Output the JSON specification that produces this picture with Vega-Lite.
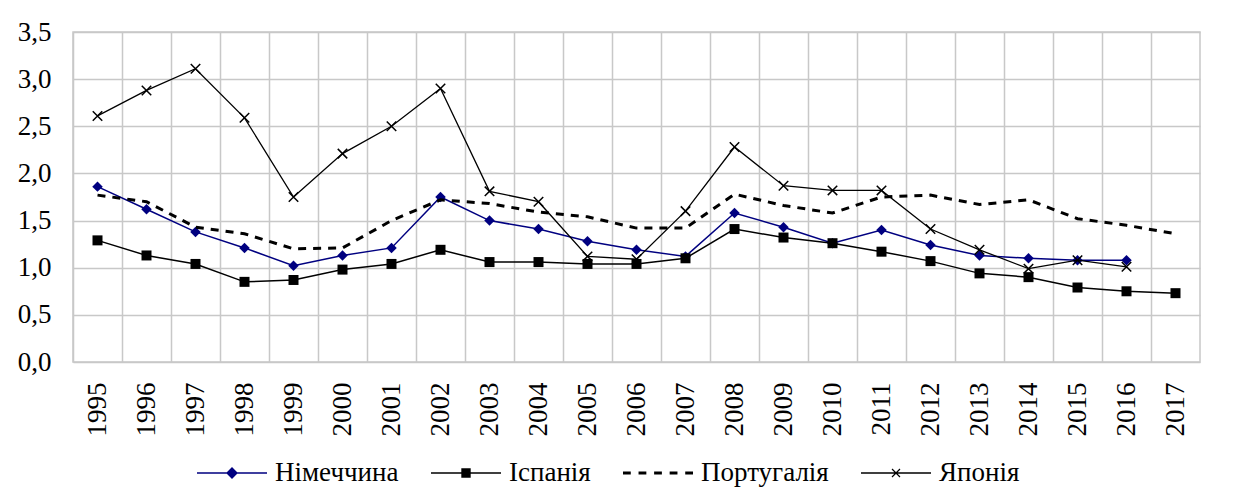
{
  "$schema": "https://vega.github.io/schema/vega-lite/v6.json",
  "width": 1127,
  "height": 330,
  "autosize": "none",
  "padding": {"left": 73, "top": 32, "right": 35, "bottom": 138},
  "background": "white",
  "config": {
    "view": {"stroke": "#c8c8c8", "strokeWidth": 1.5},
    "font": "Liberation Serif"
  },
  "resolve": {"axis": {"x": "independent"}},
  "data": {
    "values": [
      {"year": 1995, "series": "Німеччина", "value": 1.86},
      {"year": 1996, "series": "Німеччина", "value": 1.62},
      {"year": 1997, "series": "Німеччина", "value": 1.38},
      {"year": 1998, "series": "Німеччина", "value": 1.21},
      {"year": 1999, "series": "Німеччина", "value": 1.02},
      {"year": 2000, "series": "Німеччина", "value": 1.13},
      {"year": 2001, "series": "Німеччина", "value": 1.21},
      {"year": 2002, "series": "Німеччина", "value": 1.75},
      {"year": 2003, "series": "Німеччина", "value": 1.50},
      {"year": 2004, "series": "Німеччина", "value": 1.41},
      {"year": 2005, "series": "Німеччина", "value": 1.28},
      {"year": 2006, "series": "Німеччина", "value": 1.19},
      {"year": 2007, "series": "Німеччина", "value": 1.12},
      {"year": 2008, "series": "Німеччина", "value": 1.58},
      {"year": 2009, "series": "Німеччина", "value": 1.43},
      {"year": 2010, "series": "Німеччина", "value": 1.26},
      {"year": 2011, "series": "Німеччина", "value": 1.40},
      {"year": 2012, "series": "Німеччина", "value": 1.24},
      {"year": 2013, "series": "Німеччина", "value": 1.13},
      {"year": 2014, "series": "Німеччина", "value": 1.10},
      {"year": 2015, "series": "Німеччина", "value": 1.08},
      {"year": 2016, "series": "Німеччина", "value": 1.08},
      {"year": 1995, "series": "Іспанія", "value": 1.29},
      {"year": 1996, "series": "Іспанія", "value": 1.13},
      {"year": 1997, "series": "Іспанія", "value": 1.04},
      {"year": 1998, "series": "Іспанія", "value": 0.85},
      {"year": 1999, "series": "Іспанія", "value": 0.87},
      {"year": 2000, "series": "Іспанія", "value": 0.98},
      {"year": 2001, "series": "Іспанія", "value": 1.04},
      {"year": 2002, "series": "Іспанія", "value": 1.19},
      {"year": 2003, "series": "Іспанія", "value": 1.06},
      {"year": 2004, "series": "Іспанія", "value": 1.06},
      {"year": 2005, "series": "Іспанія", "value": 1.04},
      {"year": 2006, "series": "Іспанія", "value": 1.04},
      {"year": 2007, "series": "Іспанія", "value": 1.10},
      {"year": 2008, "series": "Іспанія", "value": 1.41},
      {"year": 2009, "series": "Іспанія", "value": 1.32},
      {"year": 2010, "series": "Іспанія", "value": 1.26},
      {"year": 2011, "series": "Іспанія", "value": 1.17},
      {"year": 2012, "series": "Іспанія", "value": 1.07},
      {"year": 2013, "series": "Іспанія", "value": 0.94},
      {"year": 2014, "series": "Іспанія", "value": 0.90},
      {"year": 2015, "series": "Іспанія", "value": 0.79},
      {"year": 2016, "series": "Іспанія", "value": 0.75},
      {"year": 2017, "series": "Іспанія", "value": 0.73},
      {"year": 1995, "series": "Португалія", "value": 1.77},
      {"year": 1996, "series": "Португалія", "value": 1.70},
      {"year": 1997, "series": "Португалія", "value": 1.43},
      {"year": 1998, "series": "Португалія", "value": 1.36},
      {"year": 1999, "series": "Португалія", "value": 1.20},
      {"year": 2000, "series": "Португалія", "value": 1.21},
      {"year": 2001, "series": "Португалія", "value": 1.50},
      {"year": 2002, "series": "Португалія", "value": 1.72},
      {"year": 2003, "series": "Португалія", "value": 1.68},
      {"year": 2004, "series": "Португалія", "value": 1.59},
      {"year": 2005, "series": "Португалія", "value": 1.54},
      {"year": 2006, "series": "Португалія", "value": 1.42},
      {"year": 2007, "series": "Португалія", "value": 1.42},
      {"year": 2008, "series": "Португалія", "value": 1.78},
      {"year": 2009, "series": "Португалія", "value": 1.66},
      {"year": 2010, "series": "Португалія", "value": 1.58},
      {"year": 2011, "series": "Португалія", "value": 1.75},
      {"year": 2012, "series": "Португалія", "value": 1.77},
      {"year": 2013, "series": "Португалія", "value": 1.67},
      {"year": 2014, "series": "Португалія", "value": 1.72},
      {"year": 2015, "series": "Португалія", "value": 1.52},
      {"year": 2016, "series": "Португалія", "value": 1.45},
      {"year": 2017, "series": "Португалія", "value": 1.36},
      {"year": 1995, "series": "Японія", "value": 2.61},
      {"year": 1996, "series": "Японія", "value": 2.88},
      {"year": 1997, "series": "Японія", "value": 3.11},
      {"year": 1998, "series": "Японія", "value": 2.59},
      {"year": 1999, "series": "Японія", "value": 1.75},
      {"year": 2000, "series": "Японія", "value": 2.21},
      {"year": 2001, "series": "Японія", "value": 2.50},
      {"year": 2002, "series": "Японія", "value": 2.90},
      {"year": 2003, "series": "Японія", "value": 1.81},
      {"year": 2004, "series": "Японія", "value": 1.70},
      {"year": 2005, "series": "Японія", "value": 1.12},
      {"year": 2006, "series": "Японія", "value": 1.09},
      {"year": 2007, "series": "Японія", "value": 1.60},
      {"year": 2008, "series": "Японія", "value": 2.28},
      {"year": 2009, "series": "Японія", "value": 1.87},
      {"year": 2010, "series": "Японія", "value": 1.82},
      {"year": 2011, "series": "Японія", "value": 1.82},
      {"year": 2012, "series": "Японія", "value": 1.41},
      {"year": 2013, "series": "Японія", "value": 1.19},
      {"year": 2014, "series": "Японія", "value": 0.99},
      {"year": 2015, "series": "Японія", "value": 1.08},
      {"year": 2016, "series": "Японія", "value": 1.01}
    ]
  },
  "encoding": {
    "x": {
      "field": "year",
      "type": "ordinal",
      "scale": {"type": "band", "paddingInner": 0, "paddingOuter": 0},
      "axis": null
    },
    "y": {
      "field": "value",
      "type": "quantitative",
      "scale": {"domain": [0, 3.5], "nice": false},
      "axis": {
        "title": null,
        "values": [0, 0.5, 1, 1.5, 2, 2.5, 3, 3.5],
        "labelExpr": "replace(format(datum.value,'.1f'),'.',',')",
        "grid": true,
        "gridColor": "#c8c8c8",
        "gridWidth": 1.5,
        "domain": false,
        "ticks": false,
        "labelFont": "Liberation Serif",
        "labelFontSize": 27,
        "labelColor": "black",
        "labelPadding": 22
      }
    }
  },
  "layer": [
    {
      "mark": {"type": "line", "opacity": 0},
      "encoding": {
        "x": {
          "field": "year",
          "type": "ordinal",
          "scale": {"type": "band", "paddingInner": 0, "paddingOuter": 0},
          "axis": {
            "orient": "top",
            "title": null,
            "labels": false,
            "ticks": false,
            "domain": false,
            "grid": true,
            "gridColor": "#c8c8c8",
            "gridWidth": 1.5,
            "bandPosition": 0
          }
        },
        "detail": {"field": "series", "type": "nominal"}
      }
    },
    {
      "transform": [{"filter": "datum.series === 'Німеччина'"}],
      "mark": {
        "type": "line",
        "color": "#000080",
        "strokeWidth": 1.5,
        "point": {"shape": "diamond", "filled": true, "size": 110, "color": "#000080"}
      },
      "encoding": {
        "x": {
          "field": "year",
          "type": "ordinal",
          "scale": {"type": "band", "paddingInner": 0, "paddingOuter": 0},
          "axis": {
            "title": null,
            "orient": "bottom",
            "labelAngle": 270,
            "labelPadding": 20,
            "labelFont": "Liberation Serif",
            "labelFontSize": 27,
            "labelColor": "black",
            "ticks": false,
            "domain": false,
            "grid": false
          }
        }
      }
    },
    {
      "transform": [{"filter": "datum.series === 'Іспанія'"}],
      "mark": {
        "type": "line",
        "color": "black",
        "strokeWidth": 1.5,
        "point": {"shape": "square", "filled": true, "size": 100, "color": "black"}
      }
    },
    {
      "transform": [{"filter": "datum.series === 'Португалія'"}],
      "mark": {"type": "line", "color": "black", "strokeWidth": 3, "strokeDash": [8, 7]}
    },
    {
      "transform": [{"filter": "datum.series === 'Японія'"}],
      "mark": {
        "type": "line",
        "color": "black",
        "strokeWidth": 1.3,
        "point": {"shape": "M-1,-1L1,1M1,-1L-1,1", "filled": false, "size": 90, "color": "black", "strokeWidth": 1.5}
      }
    },
    {
      "transform": [{"filter": "datum.year === 1995"}],
      "mark": {"type": "point", "filled": true, "opacity": 0},
      "encoding": {
        "color": {
          "field": "series",
          "type": "nominal",
          "scale": {
            "domain": ["Німеччина", "Іспанія", "Португалія", "Японія"],
            "range": ["#000080", "#000000", "#000000", "#000000"]
          },
          "legend": {
            "title": null,
            "orient": "none",
            "legendX": 124,
            "legendY": 406,
            "direction": "horizontal",
            "columns": 4,
            "symbolSize": 4900,
            "symbolStrokeWidth": 0,
            "labelFont": "Liberation Serif",
            "labelFontSize": 27,
            "labelColor": "black",
            "labelOffset": 8,
            "columnPadding": 32,
            "labelLimit": 0,
            "padding": 0,
            "encode": {
              "symbols": {
                "update": {
                  "opacity": {"value": 1},
                  "fillOpacity": {"value": 1},
                  "fill": {"scale": "color", "field": "value"}
                }
              }
            }
          }
        },
        "shape": {
          "field": "series",
          "type": "nominal",
          "scale": {
            "domain": ["Німеччина", "Іспанія", "Португалія", "Японія"],
            "range": [
              "M-1,-0.021H1V0.021H-1Z M0,-0.17L0.17,0L0,0.17L-0.17,0Z",
              "M-1,-0.021H1V0.021H-1Z M-0.134,-0.134H0.134V0.134H-0.134Z",
              "M-1,-0.043H-0.778V0.043H-1Z M-0.556,-0.043H-0.333V0.043H-0.556Z M-0.111,-0.043H0.111V0.043H-0.111Z M0.333,-0.043H0.556V0.043H0.333Z M0.778,-0.043H1V0.043H0.778Z",
              "M-1,-0.02H1V0.02H-1Z M-0.102,-0.126L0.126,0.102L0.102,0.126L-0.126,-0.102Z M0.126,-0.102L-0.102,0.126L-0.126,0.102L0.102,-0.126Z"
            ]
          }
        }
      }
    }
  ]
}
